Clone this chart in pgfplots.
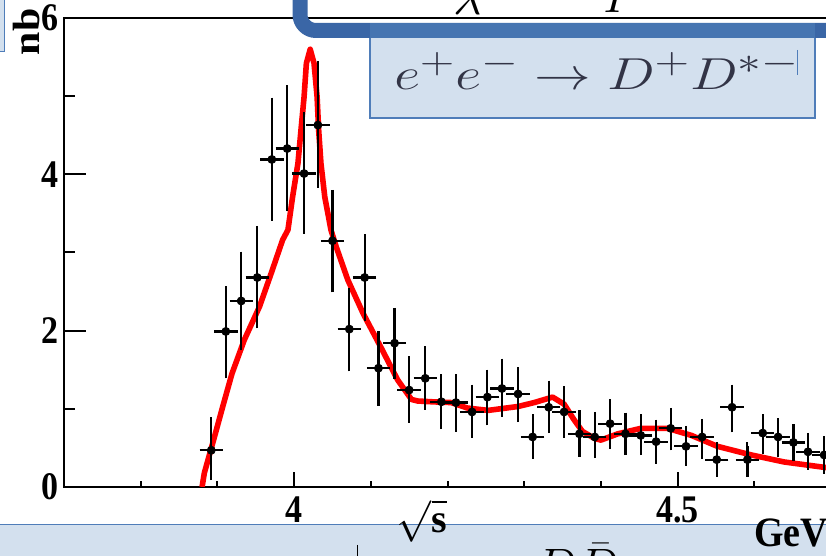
\documentclass[border=0pt]{standalone}
\usepackage{pgfplots}
\pgfplotsset{compat=1.18}
\usepackage{pgfplotstable}
\usepackage{fontspec}
\setmainfont{Liberation Serif}
\definecolor{lightbox}{RGB}{211,224,238}
\definecolor{lightborder}{RGB}{79,125,185}
\definecolor{darkbox}{RGB}{58,102,166}
\definecolor{midbox}{RGB}{70,117,177}
\definecolor{formula}{RGB}{50,52,70}

\pgfplotstableread{
x y ep em
3.892 0.47 0.37 0.33
3.911 1.99 0.53 0.55
3.931 2.38 0.58 0.58
3.952 2.68 0.61 0.60
3.971 4.19 0.74 0.73
3.991 4.33 0.76 0.75
4.013 4.01 0.73 0.72
4.031 4.63 0.77 0.75
4.050 3.15 0.60 0.61
4.072 2.02 0.47 0.49
4.092 2.68 0.50 0.50
4.110 1.52 0.42 0.43
4.131 1.84 0.40 0.41
4.150 1.24 0.38 0.37
4.171 1.39 0.36 0.35
4.192 1.09 0.30 0.30
4.211 1.08 0.31 0.32
4.232 0.96 0.30 0.28
4.252 1.15 0.30 0.31
4.271 1.26 0.33 0.31
4.292 1.19 0.29 0.31
4.311 0.64 0.24 0.23
4.332 1.02 0.29 0.28
4.352 0.96 0.28 0.28
4.372 0.68 0.25 0.24
4.392 0.64 0.27 0.22
4.412 0.81 0.26 0.27
4.432 0.68 0.22 0.22
4.452 0.66 0.22 0.20
4.472 0.58 0.23 0.23
4.491 0.75 0.21 0.23
4.511 0.52 0.21 0.20
4.532 0.64 0.18 0.23
4.551 0.35 0.17 0.17
4.571 1.02 0.24 0.27
4.591 0.35 0.17 0.17
4.611 0.69 0.19 0.22
4.631 0.64 0.19 0.21
4.651 0.57 0.18 0.18
4.670 0.45 0.19 0.18
4.691 0.41 0.19 0.19
}\datatable

\pgfplotstableread{
x y
3.880 0.00
3.883 0.18
3.895 0.60
3.907 1.03
3.919 1.45
3.935 1.88
3.955 2.31
3.970 2.73
3.985 3.16
3.992 3.29
3.998 3.71
4.005 4.14
4.009 4.57
4.013 4.99
4.016 5.42
4.021 5.60
4.026 5.42
4.030 4.99
4.032 4.57
4.035 4.14
4.040 3.71
4.045 3.45
4.048 3.29
4.055 3.07
4.070 2.65
4.090 2.22
4.113 1.79
4.135 1.37
4.153 1.12
4.161 1.10
4.180 1.09
4.205 1.08
4.226 1.01
4.253 0.98
4.292 1.03
4.313 1.08
4.337 1.15
4.352 1.06
4.365 0.86
4.376 0.71
4.392 0.62
4.400 0.60
4.422 0.68
4.452 0.75
4.487 0.75
4.518 0.66
4.552 0.52
4.596 0.41
4.639 0.32
4.700 0.24
}\curvetable

\newcommand{\tl}[1]{\scalebox{1}[1.15]{#1}}

\begin{document}
\begin{tikzpicture}
\useasboundingbox (0,0) rectangle (413pt,278pt);
\clip (0,0) rectangle (413pt,278pt);
\begin{axis}[
  scale only axis, width=383.5pt, height=234.5pt,
  at={(32pt,34.5pt)}, anchor=south west,
  xmin=3.7, xmax=4.7, ymin=0, ymax=6,
  axis line style={line width=1pt},
  xtick={4,4.5}, xticklabels={\tl{4},\tl{4.5}},
  minor xtick={3.8,3.9,4.1,4.2,4.3,4.4,4.6,4.7},
  ytick={0,2,4,6}, yticklabels={\tl{0},\tl{2},\tl{4},\tl{6}},
  minor ytick={1,3,5},
  xtick pos=left, ytick pos=left,
  tick align=inside,
  major tick length=11pt, minor tick length=5.5pt,
  xtick style={/pgfplots/major tick length=7.5pt,/pgfplots/minor tick length=3pt},
  tick style={line width=1pt, black},
  ticklabel style={font=\fontsize{17}{19}\selectfont\bfseries},
  xticklabel style={inner sep=0pt, anchor=north, yshift=-4.5pt},
  yticklabel style={inner sep=0pt, anchor=east, xshift=-2.5pt},
]
\addplot[red, line width=2.8pt, line join=round, no marks] table[x=x,y=y] {\curvetable};
\addplot[black, only marks, mark=*, mark size=2pt,
  error bars/.cd, y dir=both, y explicit, x dir=both, x fixed=0.01,
  error bar style={line width=1.1pt, black},
  error mark options={line width=1.1pt, mark size=2pt, black}]
  table[x=x, y=y, y error plus=ep, y error minus=em] {\datatable};
\end{axis}
\begin{scope}[x=0.5pt,y=-0.5pt,yshift=278pt]
  % top-left small box
  \fill[lightbox] (-5,-5) rectangle (4,52);
  \draw[lightborder, line width=0.5pt] (4,-5) -- (4,52) -- (-5,52);
  % y label
  \node[rotate=90, font=\fontsize{19}{20}\selectfont\bfseries, inner sep=0pt] at (27,32) {\scalebox{1.1}[1]{nb}};
  % fragments of a large formula at the top
  \node[anchor=base, font=\fontsize{44}{44}\selectfont, inner sep=0pt] at (468,15) {$\lambda$};
  \node[anchor=base west, font=\fontsize{44}{44}\selectfont, inner sep=0pt] at (603,13) {$P$};
  % light formula box
  \filldraw[fill=lightbox, draw=lightborder, line width=0.6pt] (370,25) rectangle (815,118);
  % dark frame
  \draw[darkbox, line width=7.5pt, rounded corners=8pt] (300,-30) -- (300,30.5) -- (870,30.5);
  \fill[midbox] (370,23) rectangle (815,38);
  \node[anchor=base west, text=formula, font=\fontsize{24.88}{26}\selectfont, inner sep=0pt] at (394,90) {\scalebox{1.14}[0.9]{$e^+e^-\rightarrow D^+D^{*-}$}};
  \draw[lightborder, line width=0.5pt] (797,50) -- (797,75);
  % bottom band
  \fill[lightbox] (-5,525) rectangle (831,561);
  \draw[lightborder, line width=0.5pt] (-5,525) -- (831,525);
  \draw[black, line width=0.5pt] (357,545) -- (357,560);
  \node[anchor=north west, font=\fontsize{40}{40}\selectfont, inner sep=0pt] at (535,543) {$D\bar{D}$};
  % x axis label and unit
  \node[font=\fontsize{20}{22}\selectfont\bfseries, inner sep=0pt] at (422,521) {$\sqrt{\textbf{s}}$};
  \node[anchor=west, font=\fontsize{19}{20}\selectfont\bfseries, inner sep=0pt] at (754,533) {\scalebox{1}[1.1]{GeV}};
\end{scope}
\end{tikzpicture}
\end{document}
